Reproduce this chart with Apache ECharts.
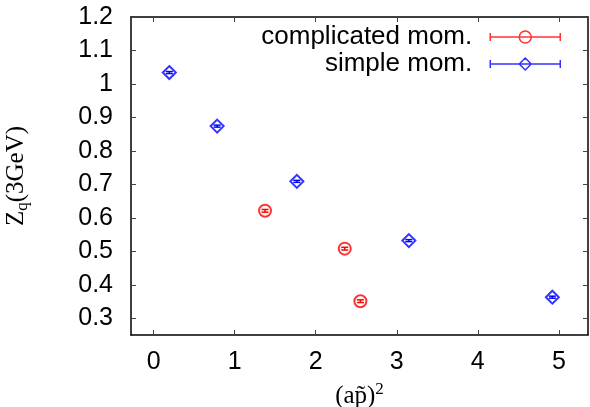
<!DOCTYPE html>
<html>
<head>
<meta charset="utf-8">
<script src="https://cdn.jsdelivr.net/npm/echarts@6/dist/echarts.min.js"></script>
<style>
  html, body { margin: 0; padding: 0; background: #fff; }
  #main { width: 590px; height: 407px; }
</style>
</head>
<body>
<div id="main"></div>
<script>
// values
const complicatedX = [1.374, 2.358, 2.551]
const complicatedY = [0.621, 0.508, 0.351]
const complicatedErr = [0.004, 0.004, 0.004]

const simpleX = [0.193, 0.783, 1.767, 3.149, 4.92]
const simpleY = [1.034, 0.874, 0.709, 0.532, 0.363]
const simpleErr = [0.003, 0.003, 0.003, 0.003, 0.003]

const xRange = [-0.28, 5.36]
const yRange = [0.25, 1.2]

const RED = '#ff0000'
const BLUE = '#0000ff'
const SANS = 'Liberation Sans'
const SERIF = 'Liberation Serif'

function pts(xs, ys, es) {
    return xs.map((x, i) => es ? [x, ys[i], es[i]] : [x, ys[i]])
}

// small vertical error bar with caps
function errorBar(color) {
    return function (params, api) {
        let x = api.value(0), y = api.value(1), e = api.value(2)
        let lo = api.coord([x, y - e])
        let hi = api.coord([x, y + e])
        let w = 3.5
        let style = { stroke: color, lineWidth: 1.5 }
        return {
            type: 'group',
            children: [
                { type: 'line', shape: { x1: lo[0], y1: lo[1], x2: hi[0], y2: hi[1] }, style },
                { type: 'line', shape: { x1: lo[0] - w, y1: lo[1], x2: lo[0] + w, y2: lo[1] }, style },
                { type: 'line', shape: { x1: hi[0] - w, y1: hi[1], x2: hi[0] + w, y2: hi[1] }, style }
            ]
        }
    }
}

const tickStyle = { show: true, inside: true, length: 5, lineStyle: { color: '#444', width: 1 } }
const lineStyle = { show: true, onZero: false, lineStyle: { color: '#000', width: 1.5 } }

let option = {
    animation: false,
    backgroundColor: '#fff',
    grid: { left: 131, right: 2, top: 17, bottom: 72, containLabel: false, outerBoundsMode: 'none' },
    legend: {
        orient: 'vertical',
        right: 24,
        top: 19,
        align: 'right',
        itemWidth: 70,
        itemHeight: 12,
        itemGap: 1,
        textStyle: { fontFamily: SANS, fontSize: 26, color: '#000', lineHeight: 26, padding: [0, 13, 0, 0] },
        data: [
            {
                name: 'complicated mom.',
                icon: 'path://M0,6L70,6M0,2L0,10M70,2L70,10M29,6A6,6 0 1 1 41,6A6,6 0 1 1 29,6Z',
                itemStyle: { color: 'transparent', borderColor: RED, borderWidth: 1.5 }
            },
            {
                name: 'simple mom.',
                icon: 'path://M0,6L70,6M0,2L0,10M70,2L70,10M35,0L41,6L35,12L29,6Z',
                itemStyle: { color: 'transparent', borderColor: BLUE, borderWidth: 1.5 }
            }
        ]
    },
    xAxis: [
        {
            type: 'value', min: xRange[0], max: xRange[1], position: 'bottom',
            splitLine: { show: false }, axisLine: lineStyle, axisTick: tickStyle,
            axisLabel: { fontFamily: SANS, fontSize: 25, color: '#000', margin: 15, showMinLabel: false, showMaxLabel: false },
            name: '{a|(ap\u0303)}{s|2}',
            nameLocation: 'middle',
            nameGap: 46,
            nameTextStyle: {
                rich: {
                    a: { fontFamily: SERIF, fontSize: 25, color: '#000' },
                    s: { fontFamily: SERIF, fontSize: 17, color: '#000', padding: [0, 0, 14, 0] }
                }
            }
        },
        {
            type: 'value', min: xRange[0], max: xRange[1], position: 'top',
            splitLine: { show: false }, axisLine: lineStyle, axisTick: tickStyle,
            axisLabel: { show: false }
        }
    ],
    yAxis: [
        {
            type: 'value', min: yRange[0], max: yRange[1], splitNumber: 10, position: 'left',
            splitLine: { show: false }, axisLine: lineStyle, axisTick: tickStyle,
            axisLabel: { fontFamily: SANS, fontSize: 25, color: '#000', margin: 18, showMinLabel: false },
            name: '{a|Z}{s|q}{a|(3GeV)}',
            nameLocation: 'middle',
            nameRotate: 90,
            nameGap: 100,
            nameTextStyle: {
                rich: {
                    a: { fontFamily: SERIF, fontSize: 25, color: '#000' },
                    s: { fontFamily: SERIF, fontSize: 17, color: '#000', padding: [12, 0, 0, 0] }
                }
            }
        },
        {
            type: 'value', min: yRange[0], max: yRange[1], splitNumber: 10, position: 'right',
            splitLine: { show: false }, axisLine: lineStyle, axisTick: tickStyle,
            axisLabel: { show: false }
        }
    ],
    series: [
        {
            name: 'complicated mom.',
            type: 'scatter',
            symbol: 'emptyCircle',
            symbolSize: 12,
            itemStyle: { color: RED, borderColor: RED, borderWidth: 1.5 },
            data: pts(complicatedX, complicatedY)
        },
        {
            name: 'simple mom.',
            type: 'scatter',
            symbol: 'emptyDiamond',
            symbolSize: 13,
            itemStyle: { color: BLUE, borderColor: BLUE, borderWidth: 1.5 },
            data: pts(simpleX, simpleY)
        },
        {
            name: 'complicated err',
            type: 'custom',
            renderItem: errorBar(RED),
            data: pts(complicatedX, complicatedY, complicatedErr),
            z: 3
        },
        {
            name: 'simple err',
            type: 'custom',
            renderItem: errorBar(BLUE),
            data: pts(simpleX, simpleY, simpleErr),
            z: 3
        }
    ]
}

let myChart = echarts.init(document.getElementById('main'))
myChart.setOption(option)
</script>
</body>
</html>
